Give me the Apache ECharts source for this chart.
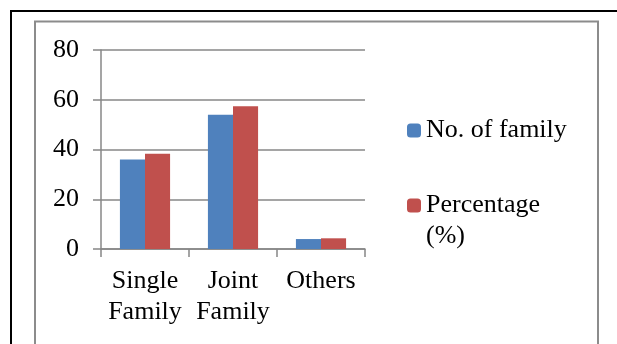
<!DOCTYPE html>
<html>
<head>
<meta charset="utf-8">
<script src="https://cdn.jsdelivr.net/npm/echarts@6/dist/echarts.min.js"></script>
<style>
  html, body { margin: 0; padding: 0; background: #fff; }
  #chart { width: 617px; height: 344px; }
</style>
</head>
<body>
<div id="chart"></div>
<script>
// Family type distribution
const categories = ['Single\nFamily', 'Joint\nFamily', 'Others'];
const familyCounts = [36, 54, 4];
const percentages = [38.3, 57.4, 4.3];
const yTicks = { min: 0, max: 80, step: 20 };
const seriesNames = ['No. of family', 'Percentage (%)'];

const FONT = '"Liberation Serif", "Times New Roman", serif';
const GRID_COLOR = '#878787';

const chart = echarts.init(document.getElementById('chart'), null, { renderer: 'canvas' });

chart.setOption({
  animation: false,
  backgroundColor: '#ffffff',
  graphic: [
    {
      type: 'rect', z: -10, silent: true,
      shape: { x: 11, y: 11, width: 640, height: 360 },
      style: { fill: 'none', stroke: '#000000', lineWidth: 2 }
    },
    {
      type: 'rect', z: -10, silent: true,
      shape: { x: 35, y: 21.5, width: 563, height: 330 },
      style: { fill: 'none', stroke: '#8c8c8c', lineWidth: 2 }
    }
  ],
  grid: { left: 101, right: 617 - 365, top: 50, bottom: 344 - 249, containLabel: false },
  legend: [
    {
      orient: 'vertical',
      left: 407,
      top: 115,
      padding: 0,
      itemWidth: 14,
      itemHeight: 14,
      selectedMode: false,
      data: [seriesNames[0]],
      textStyle: { fontFamily: FONT, fontSize: 26, color: '#000', lineHeight: 31 }
    },
    {
      orient: 'vertical',
      left: 407,
      top: 159,
      padding: 0,
      itemWidth: 14,
      itemHeight: 14,
      selectedMode: false,
      data: [seriesNames[1]],
      // blank first line keeps "Percentage" level with the swatch, "(%)" wraps below
      formatter: () => ' \nPercentage\n(%)',
      textStyle: { fontFamily: FONT, fontSize: 26, color: '#000', lineHeight: 31 }
    }
  ],
  xAxis: {
    type: 'category',
    data: categories,
    axisLine: { show: true, lineStyle: { color: GRID_COLOR, width: 1.5 } },
    axisTick: { show: true, length: 8, lineStyle: { color: GRID_COLOR, width: 1.5 } },
    axisLabel: { interval: 0, fontFamily: FONT, fontSize: 26, color: '#000', lineHeight: 31, margin: 17 }
  },
  yAxis: {
    type: 'value',
    min: yTicks.min,
    max: yTicks.max,
    interval: yTicks.step,
    axisLine: { show: true, lineStyle: { color: GRID_COLOR, width: 1.5 } },
    axisTick: { show: true, length: 8, lineStyle: { color: GRID_COLOR, width: 1.5 } },
    axisLabel: { fontFamily: FONT, fontSize: 26, color: '#000', margin: 22 },
    splitLine: { show: true, lineStyle: { color: GRID_COLOR, width: 1.5 } }
  },
  series: [
    {
      name: seriesNames[0],
      type: 'bar',
      data: familyCounts,
      barGap: '0%',
      barCategoryGap: '43%',
      itemStyle: { color: '#4F81BD' }
    },
    {
      name: seriesNames[1],
      type: 'bar',
      data: percentages,
      barGap: '0%',
      barCategoryGap: '43%',
      itemStyle: { color: '#C0504D' }
    }
  ]
});
</script>
</body>
</html>
